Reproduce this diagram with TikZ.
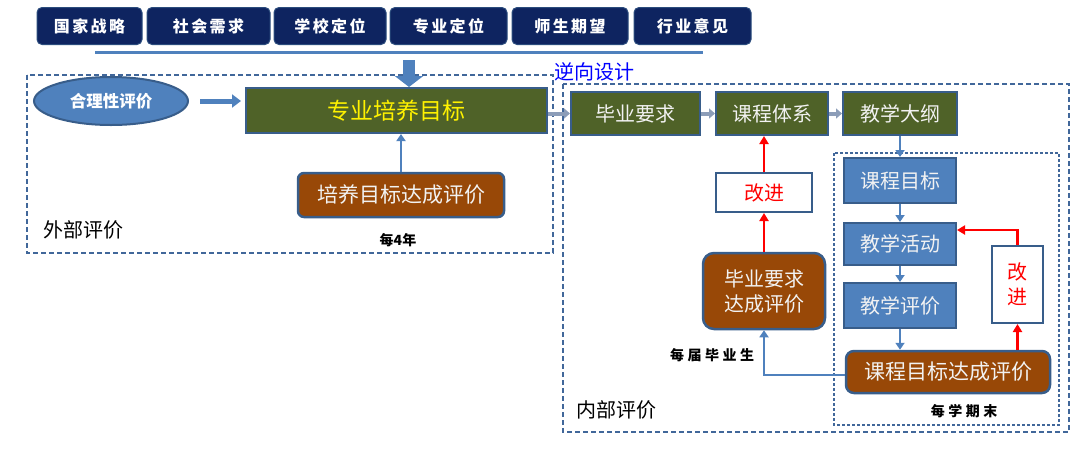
\documentclass[tikz,border=0pt]{standalone}
\usepackage{fontspec}
\setmainfont{Noto Sans CJK SC}
\newfontfamily\spaced[LetterSpace=15]{Noto Sans CJK SC}
\newfontfamily\wide[LetterSpace=25]{Noto Sans CJK SC}
\usetikzlibrary{arrows.meta,shapes.geometric}
\definecolor{navy}{HTML}{0E2460}
\definecolor{olive}{HTML}{4F6228}
\definecolor{brownb}{HTML}{984807}
\definecolor{steel}{HTML}{4F81BD}
\definecolor{steeld}{HTML}{385D8A}
\definecolor{dashc}{HTML}{41679A}
\definecolor{hollow}{HTML}{8C9DB8}
\definecolor{lighttxt}{HTML}{F2F2F2}
\newcommand{\fsz}[1]{\fontsize{#1}{#1}\selectfont}
\tikzset{
  topbox/.style={draw=steeld!70!navy, line width=1pt, fill=navy, rounded corners=5pt, minimum height=37pt, inner sep=0pt, text=white, font=\spaced\bfseries\fsz{16}},
  olivebox/.style={draw=steeld, line width=2pt, fill=olive, minimum height=43pt, inner sep=0pt, text=lighttxt, font=\fsz{20}},
  bluebox/.style={draw=steeld, line width=2pt, fill=steel, minimum width=112pt, minimum height=44pt, inner sep=0pt, text=lighttxt, font=\fsz{20}},
  brownbox/.style={draw=steeld, line width=2.5pt, fill=brownb, rounded corners=8pt, inner sep=0pt, text=lighttxt, font=\fsz{21}},
  whitebox/.style={draw=steeld, line width=2pt, fill=white, inner sep=0pt, text=red, font=\fsz{20}},
  outerdash/.style={draw=dashc, line width=1.6pt, dash pattern=on 5pt off 3pt},
  innerdash/.style={draw=dashc, line width=1.1pt, dash pattern=on 3pt off 2pt},
  blarrow/.style={draw=steel, line width=2.5pt, -{Triangle[length=7pt,width=9pt]}},
  redarrow/.style={draw=red, line width=2.5pt, -{Triangle[length=8pt,width=9pt]}},
  hollowarrow/.style={draw=hollow, line width=4pt, -{Triangle[length=6pt,width=10pt]}},
  fatarrow/.style={draw=steel, line width=5pt, -{Triangle[length=9pt,width=13pt]}},
  bigarrow/.style={draw=steel, line width=12pt, -{Triangle[length=11pt,width=28pt]}},
  lbl/.style={inner sep=0pt, text=black},
  smalllbl/.style={inner sep=0pt, text=black, font=\wide\bfseries\fsz{14}},
}
\begin{document}
\begin{tikzpicture}[x=1pt,y=-1pt]
\useasboundingbox (0,0) rectangle (1080,456);
% top row
\node[topbox, minimum width=105pt] (b1) at (89.5,26) {国家战略};
\node[topbox, minimum width=123pt] (b2) at (208.5,26) {社会需求};
\node[topbox, minimum width=112pt] (b3) at (330,26) {学校定位};
\node[topbox, minimum width=117pt] (b4) at (448.5,26) {专业定位};
\node[topbox, minimum width=116pt] (b5) at (570,26) {师生期望};
\node[topbox, minimum width=117pt] (b6) at (692.5,26) {行业意见};
\coordinate (la) at (95,52);
\coordinate (lb) at (703,52);
\draw[draw=steel, line width=3pt] (la) -- (lb);
\coordinate (ta) at (409,60);
% dashed frames
\draw[outerdash] (27,75) rectangle (553,253);
\draw[outerdash] (563,84) rectangle (1069,432);
\draw[innerdash] (834,153) rectangle (1059,425);
% left part
\node[ellipse, draw=steeld, line width=2pt, fill=steel, minimum width=154pt, minimum height=48pt, inner sep=0pt, text=white, font=\bfseries\fsz{16.5}] (ell) at (111,101) {合理性评价};
\node[olivebox, minimum width=301pt, minimum height=45pt, text=yellow, font=\fsz{23}] (goal) at (396.5,110.5) {专业培养目标};
\node[brownbox, minimum width=206pt, minimum height=44pt, rounded corners=6pt] (peval) at (401,195) {培养目标达成评价};
\node[lbl, anchor=west, font=\fsz{20}] (ext) at (43,230) {外部评价};
\node[smalllbl, font=\bfseries\fsz{14}] (y4) at (398,240) {每4年};
\draw[bigarrow] (ta) -- (ta |- goal.north);
\draw[fatarrow, shorten <=11pt, shorten >=4pt] (ell.east) -- (ell.east -| goal.west);
\draw[blarrow] (peval.north) -- (peval.north |- goal.south);
% right part
\node[lbl, anchor=west, text=blue, font=\fsz{20}] (rev) at (554,72) {逆向设计};
\node[olivebox, minimum width=129pt] (gr) at (635.5,113.5) {毕业要求};
\node[olivebox, minimum width=112pt] (cs) at (772,113.5) {课程体系};
\node[olivebox, minimum width=114pt] (tg) at (900,113.5) {教学大纲};
\draw[hollowarrow] (goal.east |- gr.west) -- (gr.west);
\draw[hollowarrow] (gr.east) -- (cs.west);
\draw[hollowarrow] (cs.east) -- (tg.west);
\node[bluebox, minimum height=45pt] (co) at (900,180.5) {课程目标};
\node[bluebox, minimum height=42pt] (act) at (900,244) {教学活动};
\node[bluebox, minimum height=45pt] (te) at (900,305.5) {教学评价};
\node[brownbox, minimum width=204pt, minimum height=42pt] (ce) at (948,372) {课程目标达成评价};
\node[whitebox, minimum width=51pt, minimum height=77pt, align=center, font=\fsz{20}] (imp2) at (1017.5,284.5) {改\\[5pt]进};
\node[brownbox, minimum width=122pt, minimum height=76pt, rounded corners=11pt, align=center, font=\fsz{20}] (gre) at (764,291) {毕业要求\\[5pt]达成评价};
\node[whitebox, minimum width=96pt, minimum height=39pt] (imp1) at (764,192.5) {改进};
\draw[blarrow] (tg.south) -- (co.north);
\draw[blarrow] (co.south) -- (act.north);
\draw[blarrow] (act.south) -- (te.north);
\draw[blarrow] (te.south) -- (te.south |- ce.north);
\draw[redarrow] (imp2.south |- ce.north) -- (imp2.south);
\draw[redarrow] (imp2.north) |- ([yshift=14pt]act.east);
\draw[redarrow] (gre.north) -- (imp1.south);
\draw[redarrow] (imp1.north) -- (imp1.north |- cs.south);
\draw[blarrow] ([yshift=-3pt]ce.west) -| (gre.south);
\node[smalllbl] (grad) at (712,355) {每届毕业生};
\node[lbl, anchor=west, font=\fsz{20}] (int) at (576,410) {内部评价};
\node[smalllbl] (term) at (964,411) {每学期末};
\end{tikzpicture}
\end{document}
